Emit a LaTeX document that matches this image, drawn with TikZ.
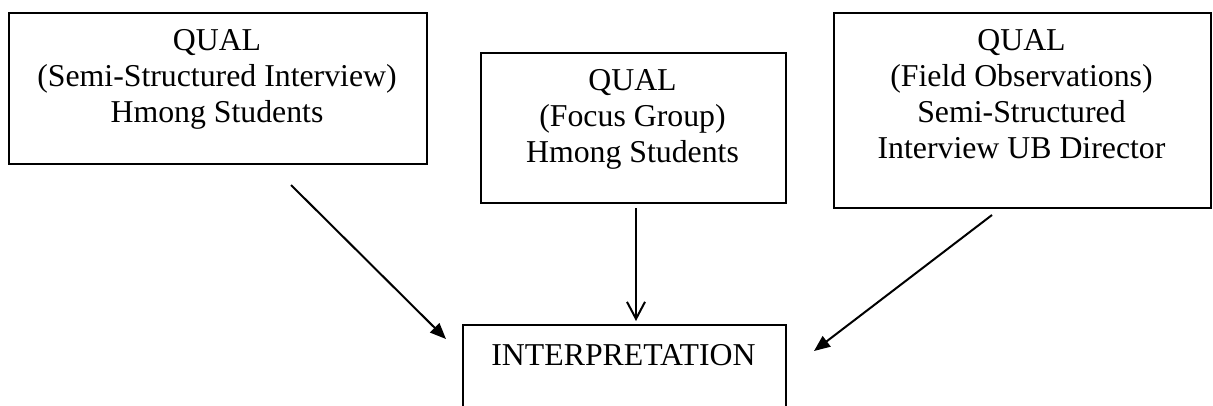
\documentclass[tikz,border=0pt]{standalone}
\usepackage{fontspec}
\setmainfont{Liberation Serif}
\usetikzlibrary{arrows.meta}
\begin{document}
\begin{tikzpicture}[x=1pt,y=-1pt,
  boxshape/.style={draw=black, line width=1.5pt, rectangle, inner sep=0pt, anchor=north west},
  txtstyle/.style={inner sep=0pt, align=center, anchor=north, font=\fontsize{31.8pt}{36pt}\selectfont},
  conn/.style={line width=2pt, -{Triangle[length=16pt,width=13pt]}},
  connopen/.style={line width=2pt, -{Straight Barb[length=17pt,width=18pt]}}]
\clip (0,0) rectangle (1213,405);
\fill[white] (0,0) rectangle (1213,405);
% boxes
\node[boxshape, minimum width=418pt, minimum height=151pt] (b1) at (8,12) {};
\node[boxshape, minimum width=305pt, minimum height=150pt] (b2) at (480,52) {};
\node[boxshape, minimum width=377pt, minimum height=195pt] (b3) at (833,12) {};
\node[boxshape, minimum width=323pt, minimum height=130pt] (b4) at (462,324) {};
% texts
\node[txtstyle] (t1) at (217,29.5) {QUAL\\(Semi-Structured Interview)\\Hmong Students};
\node[txtstyle] (t2) at (632.5,69.5) {QUAL\\(Focus Group)\\Hmong Students};
\node[txtstyle] (t3) at (1021.5,29.5) {QUAL\\(Field Observations)\\Semi-Structured\\Interview UB Director};
\node[txtstyle] (t4) at (623.5,344.5) {INTERPRETATION};
% connector ends
\coordinate (a1s) at (291,185);
\coordinate (a1e) at (446,339);
\coordinate (a2s) at (636,208);
\coordinate (a2e) at (636,321);
\coordinate (a3s) at (992,215);
\coordinate (a3e) at (814,351);
\draw[conn] (a1s) -- (a1e);
\draw[connopen] (a2s) -- (a2e);
\draw[conn] (a3s) -- (a3e);
\end{tikzpicture}
\end{document}
